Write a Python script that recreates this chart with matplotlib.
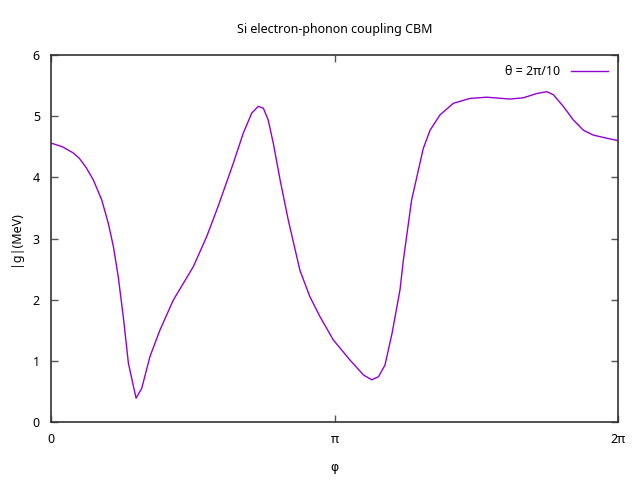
import numpy as np
import matplotlib
matplotlib.use("Agg")
import matplotlib.pyplot as plt

plt.rcParams['font.family'] = ['Noto Sans', 'DejaVu Sans']

# phi in units of pi, |g| in MeV
phi_pi = [0.0, 0.04, 0.078, 0.10, 0.124, 0.149, 0.179, 0.202, 0.220, 0.237, 0.255, 0.273,
          0.300, 0.320, 0.349, 0.384, 0.431, 0.502, 0.549, 0.589, 0.643,
          0.678, 0.708, 0.731, 0.749, 0.766, 0.784, 0.808, 0.837, 0.878, 0.913,
          0.949, 0.996, 1.055, 1.102, 1.131, 1.155, 1.178, 1.203, 1.231, 1.243,
          1.272, 1.296, 1.313, 1.337, 1.372, 1.419, 1.478, 1.537, 1.619, 1.666,
          1.713, 1.749, 1.772, 1.807, 1.842, 1.878, 1.913, 1.960, 2.0]
g = [4.56, 4.50, 4.40, 4.31, 4.16, 3.96, 3.63, 3.25, 2.87, 2.38, 1.72, 0.96,
     0.39, 0.55, 1.07, 1.50, 1.99, 2.54, 3.03, 3.52, 4.23,
     4.72, 5.05, 5.16, 5.13, 4.94, 4.56, 3.96, 3.30, 2.48, 2.05,
     1.72, 1.34, 1.01, 0.77, 0.69, 0.74, 0.93, 1.45, 2.16, 2.65,
     3.63, 4.12, 4.47, 4.77, 5.02, 5.21, 5.29, 5.31, 5.28, 5.30,
     5.37, 5.40, 5.35, 5.16, 4.94, 4.77, 4.69, 4.64, 4.60]

xticks = [0, np.pi, 2 * np.pi]
xticklabels = ['0', 'π', '2π']

fig = plt.figure(figsize=(6.4, 4.8), dpi=100)
ax = fig.add_axes([51/640, 1 - 422/480, 567/640, 367/480])

phi = np.array(phi_pi) * np.pi
ax.plot(phi, g, color='#9400d3', lw=1.0, label='θ = 2π/10')

ax.set_xlim(0, 2 * np.pi)
ax.set_ylim(0, 6)
ax.set_xticks(xticks)
ax.set_xticklabels(xticklabels)
ax.set_yticks(range(7))
ax.tick_params(direction='in', length=5, width=1, color='#555555',
               top=True, right=True, labelsize=9, pad=8)
for s in ax.spines.values():
    s.set_color('#333333')
    s.set_linewidth(1.2)

ax.set_title('Si electron-phonon coupling CBM', fontsize=9, pad=16)
ax.set_xlabel('φ', fontsize=9, labelpad=11, family=['DejaVu Sans'])
ax.set_ylabel('|g|(MeV)', fontsize=9, labelpad=8)

ax.legend(loc='upper right', frameon=False, markerfirst=False, fontsize=9,
          handlelength=3.0, borderaxespad=0.4)

fig.savefig('out.png', dpi=100)
